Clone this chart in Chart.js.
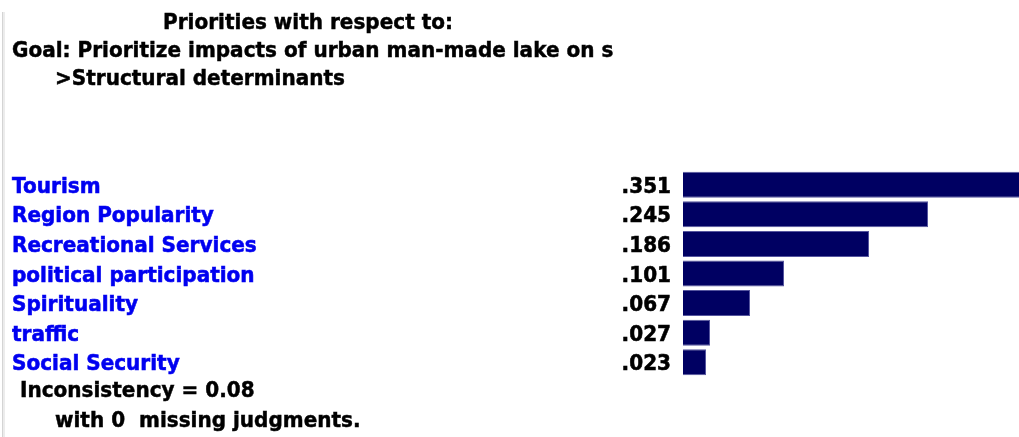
<!DOCTYPE html>
<html>
<head>
<meta charset="utf-8">
<script src="https://cdn.jsdelivr.net/npm/chart.js@4.4.1/dist/chart.umd.min.js"></script>
<style>
  html, body { margin: 0; padding: 0; background: #fff; overflow: hidden; }
  #wrap { position: relative; width: 1019px; height: 437px; }
  #chart { position: absolute; left: 0; top: 0; }
  .txt { position: absolute; font: bold 22px "DejaVu Sans", sans-serif; color: #000; white-space: nowrap; line-height: 22px; transform: scaleX(0.91); transform-origin: 0 0; -webkit-text-stroke: 0.5px #000; }
  #clip { position: absolute; left: 12px; top: 39px; width: 602px; height: 30px; overflow: hidden; }
  #edge { position: absolute; left: 2px; top: 12px; width: 1px; bottom: 0; background: #d4d4d4; border-right: 2px solid #ececec; }
</style>
</head>
<body>
<div id="wrap">
  <div id="edge"></div>
  <canvas id="chart" width="1019" height="437"></canvas>
  <div class="txt" style="left:0; width:677px; top:11px; text-align:center;">Priorities with respect to:</div>
  <div id="clip"><div class="txt" style="left:0; top:0;">Goal: Prioritize impacts of urban man-made lake on social sustainability</div></div>
  <div class="txt" style="left:55px; top:67px;">&gt;Structural determinants</div>
  <div class="txt" style="left:20px; top:379px;">Inconsistency = 0.08</div>
  <div class="txt" style="left:55px; top:409px;">with 0&nbsp; missing judgments.</div>
</div>
<script>
// Priorities of structural determinants
const categories = ['Tourism', 'Region Popularity', 'Recreational Services', 'political participation', 'Spirituality', 'traffic', 'Social Security'];
const priorities = [0.351, 0.245, 0.186, 0.101, 0.067, 0.027, 0.023];
const valueLabels = ['.351', '.245', '.186', '.101', '.067', '.027', '.023'];

// bold text squeezed a little so it looks like the narrower original face
function squeezedText(ctx, text, x, y, align, color) {
  ctx.save();
  ctx.translate(x, y);
  ctx.scale(0.91, 1);
  ctx.font = 'bold 22px "DejaVu Sans"';
  ctx.fillStyle = color;
  ctx.strokeStyle = color;
  ctx.lineWidth = 0.6;
  ctx.textAlign = align;
  ctx.textBaseline = 'alphabetic';
  ctx.fillText(text, 0, 0);
  ctx.strokeText(text, 0, 0);
  ctx.restore();
}

// element names (blue, left) and priority values (black, right of them)
const labelsPlugin = {
  id: 'rowLabels',
  afterDraw(chart) {
    const ctx = chart.ctx;
    const y = chart.scales.y;
    categories.forEach((name, i) => {
      const base = y.getPixelForValue(i) + 8;
      squeezedText(ctx, name, 12, base, 'left', '#0000f0');
      squeezedText(ctx, valueLabels[i], 671, base, 'right', '#000');
    });
  }
};

const ctx = document.getElementById('chart').getContext('2d');

new Chart(ctx, {
  type: 'bar',
  data: {
    labels: categories,
    datasets: [{
      data: priorities,
      backgroundColor: '#000062',
      borderColor: '#55559e',
      borderWidth: 1,
      barPercentage: 0.88,
      categoryPercentage: 1,
    }],
  },
  options: {
    indexAxis: 'y',
    responsive: false,
    animation: false,
    layout: { padding: { top: 170, bottom: 60, left: 0, right: 0 } },
    plugins: {
      legend: { display: false },
      tooltip: { enabled: false },
    },
    scales: {
      x: { display: false, min: 0, max: 0.336 },
      y: {
        grid: { display: false, drawTicks: false },
        border: { display: false },
        ticks: { display: false },
        afterFit(scale) { scale.width = 683; },
      },
    },
  },
  plugins: [labelsPlugin],
});
</script>
</body>
</html>
